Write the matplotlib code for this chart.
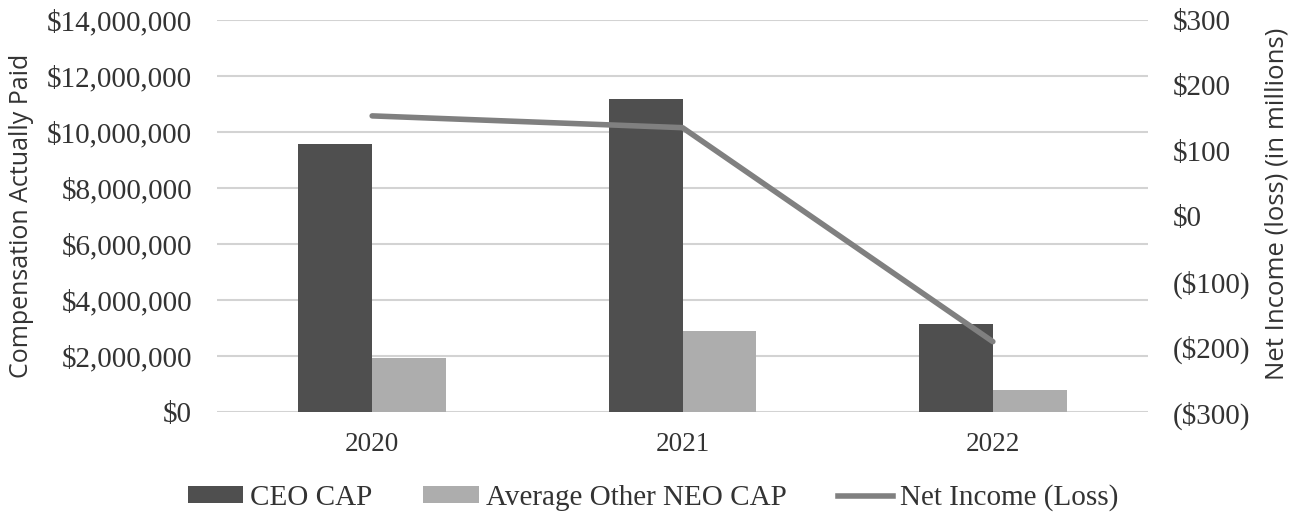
import matplotlib
matplotlib.use("Agg")
import matplotlib.pyplot as plt
from matplotlib.lines import Line2D
from matplotlib.patches import Patch
import numpy as np

years = ["2020", "2021", "2022"]
ceo_cap = [9550000, 11180000, 3160000]
neo_cap = [1950000, 2910000, 800000]
net_income = [153, 135, -192]  # in millions

left_ticks = list(range(0, 14000001, 2000000))
right_ticks = [300, 200, 100, 0, -100, -200, -300]

ceo_color = "#4f4f4f"
neo_color = "#adadad"
line_color = "#808080"
grid_color = "#d3d3d3"
text_color = "#333333"

serif = "Liberation Serif"
sans = "Open Sans"

fig = plt.figure(figsize=(13.07, 5.21), dpi=100)
ax = fig.add_axes([217 / 1307, 1 - 412.3 / 521, (1148 - 217) / 1307, (412.3 - 19.7) / 521])

x = np.arange(len(years))
w = 0.238
ax.bar(x - w / 2, ceo_cap, width=w, color=ceo_color, zorder=2)
ax.bar(x + w / 2, neo_cap, width=w, color=neo_color, zorder=2)

ax.set_xlim(-0.5, 2.5)
ax.set_ylim(0, 14000000)
ax.set_yticks(left_ticks)
ax.set_yticklabels([f"${v:,.0f}" for v in left_ticks], fontfamily=serif, fontsize=21, color=text_color)
ax.set_xticks(x)
ax.set_xticklabels(years, fontfamily=serif, fontsize=19.5, color=text_color)
ax.tick_params(axis="both", length=0)
ax.tick_params(axis="y", pad=18)
ax.tick_params(axis="x", pad=14)
ax.grid(axis="y", color=grid_color, linewidth=1.5, zorder=0)
ax.set_axisbelow(True)
for s in ax.spines.values():
    s.set_visible(False)
ax.set_ylabel("Compensation Actually Paid", fontfamily=sans, fontsize=18, color=text_color)
ax.yaxis.set_label_coords(-0.197, 0.5)

ax2 = ax.twinx()
ax2.plot(x, net_income, color=line_color, linewidth=4, solid_capstyle="round", zorder=3)
ax2.set_ylim(-300, 300)
ax2.set_yticks(right_ticks)


def fmt(v):
    return f"${v:,.0f}" if v >= 0 else f"(${-v:,.0f})"


ax2.set_yticklabels([fmt(v) for v in right_ticks], fontfamily=serif, fontsize=21, color=text_color)
ax2.tick_params(axis="y", length=0, pad=18)
for s in ax2.spines.values():
    s.set_visible(False)
ax2.set_ylabel("Net Income (loss) (in millions)", fontfamily=sans, fontsize=18.5, color=text_color)
ax2.yaxis.set_label_coords(1.125, 0.53)

handles = [
    Patch(facecolor=ceo_color, label="CEO CAP"),
    Patch(facecolor=neo_color, label="Average Other NEO CAP"),
    Line2D([0], [0], color=line_color, linewidth=4, label="Net Income (Loss)"),
]
fig.legend(handles=handles, loc="center", bbox_to_anchor=(653 / 1307, 1 - 498 / 521), ncol=3,
           frameon=False, prop={"family": serif, "size": 21}, handlelength=1.9, handleheight=0.5,
           handletextpad=0.24, columnspacing=1.75, labelcolor=text_color, borderpad=0)

fig.savefig("out.png", dpi=100)
